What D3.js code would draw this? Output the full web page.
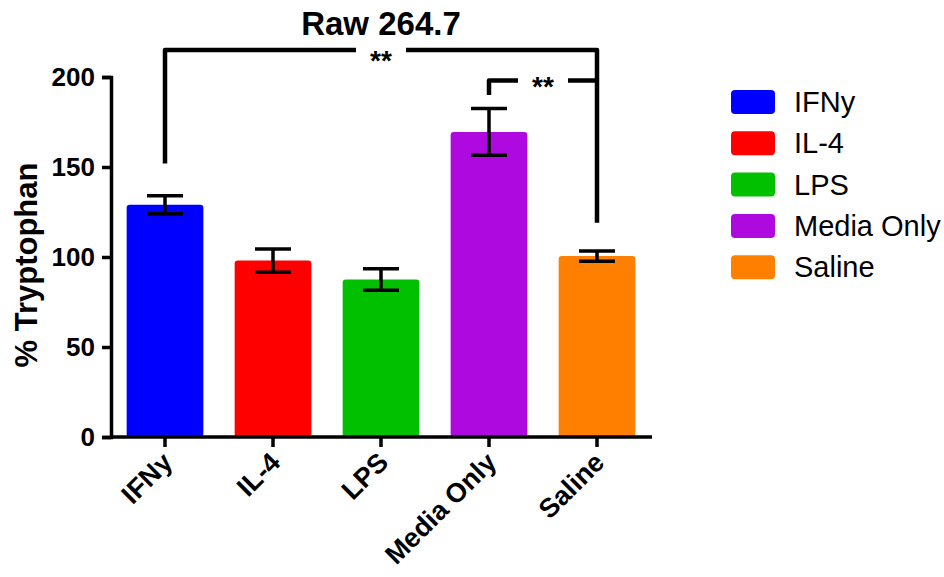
<!DOCTYPE html>
<html>
<head>
<meta charset="utf-8">
<script src="https://cdn.jsdelivr.net/npm/d3@7"></script>
<style>
  body { margin: 0; background: #fff; }
  svg { font-family: "Liberation Sans", Arial, sans-serif; }
</style>
</head>
<body>
<svg id="chart" width="944" height="577"></svg>
<script>
// Werte
const groups = ["IFNy", "IL-4", "LPS", "Media Only", "Saline"];
const means = [129, 98, 87.5, 169.5, 100.5];
const errors = [5, 6.5, 6, 13, 2.8];
const colors = ["#0000ff", "#ff0000", "#00c000", "#ae0ae0", "#ff8000"];
const yTicks = [0, 50, 100, 150, 200];

// Signifikanz-Klammern (Höhen in Datenwerten)
const comparisons = [
  { from: "IFNy", to: "Saline", level: 215, leftEnd: 152, rightEnd: 119, label: "**" },
  { from: "Media Only", to: "Saline", level: 198, leftEnd: 190, rightEnd: 198, label: "**" },
];

const svg = d3.select("#chart");

const x = d3.scaleBand()
  .domain(groups)
  .range([111, 651])
  .paddingInner(0.29)
  .paddingOuter(0.145);

const y = d3.scaleLinear().domain([0, 200]).range([437, 77]);

const data = groups.map((g, i) => ({ name: g, mean: means[i], err: errors[i], color: colors[i] }));

// Balken
svg.append("g")
  .selectAll("rect")
  .data(data)
  .join("rect")
  .attr("x", (d) => x(d.name))
  .attr("y", (d) => y(d.mean))
  .attr("width", x.bandwidth())
  .attr("height", (d) => y(0) - y(d.mean))
  .attr("rx", 3)
  .attr("fill", (d) => d.color);

// Fehlerbalken
const eb = svg.append("g")
  .attr("stroke", "#000")
  .attr("stroke-width", 3.5)
  .selectAll("g")
  .data(data)
  .join("g")
  .attr("transform", (d) => `translate(${x(d.name) + x.bandwidth() / 2},0)`);

eb.append("line")
  .attr("y1", (d) => y(d.mean - d.err))
  .attr("y2", (d) => y(d.mean + d.err));
eb.append("line")
  .attr("x1", -18).attr("x2", 18)
  .attr("y1", (d) => y(d.mean + d.err))
  .attr("y2", (d) => y(d.mean + d.err));
eb.append("line")
  .attr("x1", -18).attr("x2", 18)
  .attr("y1", (d) => y(d.mean - d.err))
  .attr("y2", (d) => y(d.mean - d.err));

// Achsen
const yAxis = svg.append("g")
  .attr("transform", "translate(111,0)")
  .call(d3.axisLeft(y).tickValues(yTicks).tickSize(9).tickPadding(7));

const xAxis = svg.append("g")
  .attr("transform", "translate(0,437)")
  .call(d3.axisBottom(x).tickSize(10).tickFormat(""));

[yAxis, xAxis].forEach((a) => {
  a.select(".domain").attr("stroke", "#000").attr("stroke-width", 3.5);
  a.selectAll(".tick line").attr("stroke", "#000").attr("stroke-width", 3.5);
});
xAxis.select(".domain").attr("d", "M111,0H652");

yAxis.selectAll(".tick text")
  .attr("fill", "#000")
  .style("font-size", "26px")
  .style("font-weight", "bold")
  .style("font-family", "'Liberation Sans', Arial, sans-serif");

// X-Beschriftungen, schräg
svg.append("g")
  .selectAll("text")
  .data(groups)
  .join("text")
  .attr("transform", (d) => `translate(${x(d) + x.bandwidth() / 2 + 9},464) rotate(-45)`)
  .attr("text-anchor", "end")
  .style("font-size", "27px")
  .style("font-weight", "bold")
  .text((d) => d);

// Y-Titel
svg.append("text")
  .attr("transform", "rotate(-90)")
  .attr("x", -265)
  .attr("y", 37)
  .attr("text-anchor", "middle")
  .style("font-size", "31px")
  .style("font-weight", "bold")
  .text("% Tryptophan");

// Titel
svg.append("text")
  .attr("x", 381)
  .attr("y", 35)
  .attr("text-anchor", "middle")
  .style("font-size", "33px")
  .style("font-weight", "bold")
  .text("Raw 264.7");

// Klammern
const cx = (g) => x(g) + x.bandwidth() / 2;
const br = svg.append("g");
comparisons.forEach((c, i) => {
  const x1 = cx(c.from), x2 = cx(c.to), yl = y(c.level);
  const mid = (x1 + x2) / 2;
  const gap = 25;
  br.append("path")
    .attr("d", `M${x1},${y(c.leftEnd)}V${yl}H${mid - gap}M${mid + gap},${yl}H${x2}V${y(c.rightEnd)}`)
    .attr("fill", "none")
    .attr("stroke", "#000")
    .attr("stroke-width", 4.5)
    .attr("stroke-linejoin", "round");
  br.append("text")
    .attr("x", mid)
    .attr("y", yl + (i === 0 ? 20 : 15))
    .attr("text-anchor", "middle")
    .style("font-size", "28px")
    .style("font-weight", "bold")
    .text(c.label);
});

// Legende
const legend = svg.append("g")
  .selectAll("g")
  .data(data)
  .join("g")
  .attr("transform", (d, i) => `translate(731,${90 + i * 41.3})`);

legend.append("rect")
  .attr("width", 44)
  .attr("height", 24)
  .attr("rx", 4)
  .attr("fill", (d) => d.color);

legend.append("text")
  .attr("x", 63)
  .attr("y", 22)
  .style("font-size", "29px")
  .text((d) => d.name);
</script>
</body>
</html>
